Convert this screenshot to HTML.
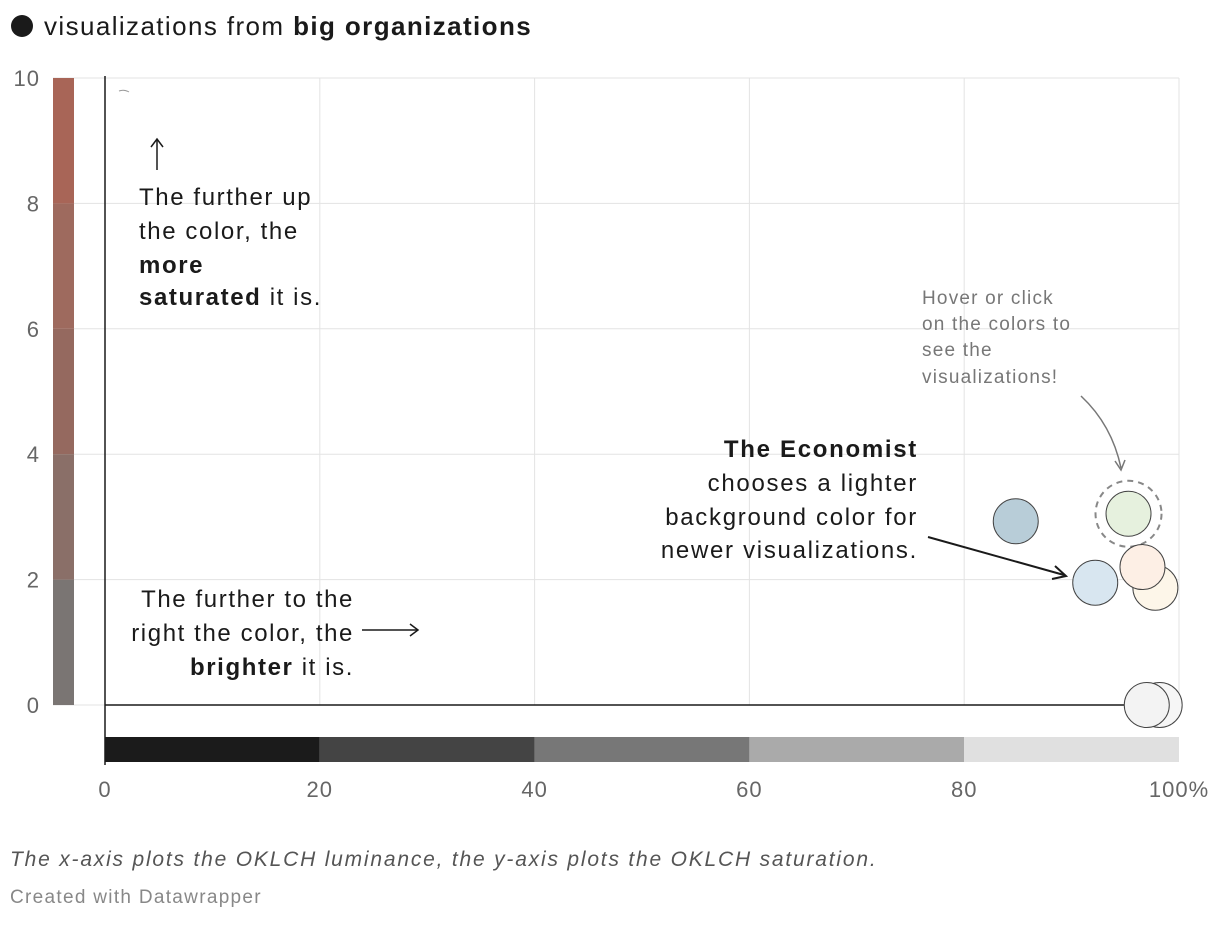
<!DOCTYPE html>
<html><head><meta charset="utf-8"><style>
body{margin:0;background:#fff;font-family:"Liberation Sans",Roboto,sans-serif;}
svg text{font-family:"Liberation Sans",sans-serif;}
</style></head><body>
<svg width="1220" height="920" xmlns="http://www.w3.org/2000/svg">
<circle cx="22" cy="26" r="11" fill="#1a1a1a"/>
<text x="44" y="35" font-size="26" fill="#1a1a1a" letter-spacing="1.4">visualizations from <tspan font-weight="bold">big organizations</tspan></text>
<g id="grid"></g>
<g id="bars"></g>
<line x1="105" y1="76" x2="105" y2="765" stroke="#1a1a1a" stroke-width="1.5"/>
<line x1="105" y1="705" x2="1179" y2="705" stroke="#1a1a1a" stroke-width="1.5"/>
<path d="M119 91 q5 -2 10 1" fill="none" stroke="#999"/>
<g font-size="24" fill="#1a1a1a" letter-spacing="1.6">
<line x1="157" y1="170" x2="157" y2="140" stroke="#1a1a1a" stroke-width="1.5"/><path d="M151 147 L157 139 L163 147" fill="none" stroke="#1a1a1a" stroke-width="1.5"/>
<text x="139" y="205">The further up</text><text x="139" y="239">the color, the</text>
<text x="139" y="273" font-weight="bold">more</text><text x="139" y="305"><tspan font-weight="bold">saturated</tspan> it is.</text>
</g>
<g font-size="24" fill="#1a1a1a" text-anchor="end" letter-spacing="1.6">
<text x="354" y="607">The further to the</text><text x="354" y="641">right the color, the</text>
<text x="354" y="675"><tspan font-weight="bold">brighter</tspan> it is.</text>
</g>
<g>
<line x1="362" y1="630" x2="418" y2="630" stroke="#1a1a1a" stroke-width="1.5"/><path d="M410 624 L418 630 L410 636" fill="none" stroke="#1a1a1a" stroke-width="1.5"/>
</g>
<g font-size="24" fill="#1a1a1a" text-anchor="end" letter-spacing="1.7">
<text x="918" y="457" font-weight="bold">The Economist</text><text x="918" y="491">chooses a lighter</text>
<text x="918" y="525">background color for</text><text x="918" y="558">newer visualizations.</text>
</g>
<g>
<line x1="928" y1="537" x2="1064" y2="575" stroke="#1a1a1a" stroke-width="2"/><path d="M1055 566 L1066 576 L1052 579" fill="none" stroke="#1a1a1a" stroke-width="2"/>
</g>
<g font-size="19" fill="#777" letter-spacing="1.2">
<text x="922" y="304">Hover or click</text><text x="922" y="330">on the colors to</text>
<text x="922" y="356">see the</text><text x="922" y="383">visualizations!</text>
</g>
<g>
<path d="M1081 396 Q1112 425 1121 468" fill="none" stroke="#777" stroke-width="1.5"/><path d="M1115 461 L1121 470 L1125 460" fill="none" stroke="#777" stroke-width="1.5"/>
</g>
<g id="pts"></g>
<g id="ticks"></g>
<text x="10" y="866" font-size="21" font-style="italic" fill="#555" letter-spacing="1.8">The x-axis plots the OKLCH luminance, the y-axis plots the OKLCH saturation.</text>
<text x="10" y="903" font-size="19" fill="#888" letter-spacing="1.3">Created with Datawrapper</text>
</svg>
<script>
const xTicks=[0,20,40,60,80,100];
const yTicks=[0,2,4,6,8,10];
const ptX=[84.8,92.2,95.3,97.8,96.6,98.2,97.0];
const ptY=[2.93,1.95,3.05,1.87,2.2,0,0];
const ptColors=["#b8cdd8","#d8e6f0","#e6f1de","#fdf6e9","#fdefe5","#f6f6f6","#f3f3f3"];
const satColors=["#7a7573","#8a6f68","#95695f","#9e6a5e","#a86557"];
const lumColors=["#1b1b1b","#444444","#777777","#aaaaaa","#e0e0e0"];
const X=v=>105+v*10.74, Y=v=>705-v*62.7;
const NS="http://www.w3.org/2000/svg";
function mk(p,t,a){const e=document.createElementNS(NS,t);for(const k in a)e.setAttribute(k,a[k]);document.getElementById(p).appendChild(e);return e;}
xTicks.forEach(v=>{const l=mk('grid','line',{x1:X(v),x2:X(v),y1:Y(10),y2:Y(0),stroke:'#e3e3e3'});


const t=mk('ticks','text',{x:X(v),y:797,'font-size':22,fill:'#666','text-anchor':'middle','letter-spacing':1});t.textContent=v===100?'100%':v;

});
yTicks.forEach(v=>{const l=mk('grid','line',{x1:53,x2:X(100),y1:Y(v),y2:Y(v),stroke:'#e3e3e3'});


const t=mk('ticks','text',{x:40,y:Y(v)+8,'font-size':22,fill:'#666','text-anchor':'end','letter-spacing':1});t.textContent=v;

});
satColors.forEach((c,i)=>{const r=mk('bars','rect',{x:53,width:21,y:Y(i*2+2),height:Y(i*2)-Y(i*2+2),fill:c});

});
lumColors.forEach((c,i)=>{const r=mk('bars','rect',{x:X(i*20),width:X(20)-X(0),y:737,height:25,fill:c});

});
ptX.forEach((x,i)=>{if(i===2){const d=mk('pts','circle',{cx:X(x),cy:Y(ptY[i]),r:33,fill:'none',stroke:'#888','stroke-width':2,'stroke-dasharray':'6 5'});

}
const c=mk('pts','circle',{cx:X(x),cy:Y(ptY[i]),r:22.5,fill:ptColors[i],stroke:'#444','stroke-width':1});

});
</script>
</body></html>
